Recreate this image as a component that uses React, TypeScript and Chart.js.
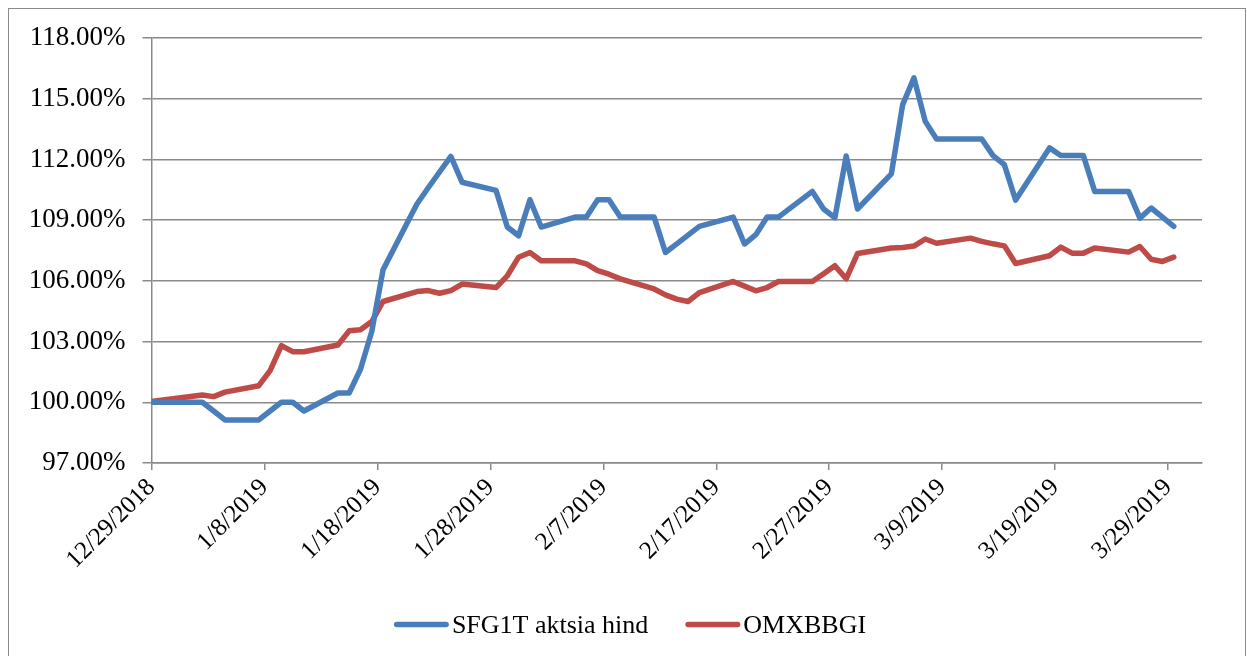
import { useEffect, useRef } from "react";
import { Chart, registerables } from "chart.js";

Chart.register(...registerables);

// ---- data ----
const axisStartDate = "12/29/2018";
const axisDays = 93; // axis runs 12/29/2018 .. 4/1/2019
const tickLabels = [
  "12/29/2018", "1/8/2019", "1/18/2019", "1/28/2019", "2/7/2019",
  "2/17/2019", "2/27/2019", "3/9/2019", "3/19/2019", "3/29/2019",
];
const seriesNames = ["SFG1T aktsia hind", "OMXBBGI"];
const seriesColors = ["#4A7EBB", "#BE4B48"];

const dates = [
  "12/28/2018", "1/2/2019", "1/3/2019", "1/4/2019", "1/7/2019", "1/8/2019", "1/9/2019", "1/10/2019", "1/11/2019",
  "1/14/2019", "1/15/2019", "1/16/2019", "1/17/2019", "1/18/2019", "1/21/2019", "1/22/2019", "1/23/2019", "1/24/2019",
  "1/25/2019", "1/28/2019", "1/29/2019", "1/30/2019", "1/31/2019", "2/1/2019", "2/4/2019", "2/5/2019", "2/6/2019",
  "2/7/2019", "2/8/2019", "2/11/2019", "2/12/2019", "2/13/2019", "2/14/2019", "2/15/2019", "2/18/2019", "2/19/2019",
  "2/20/2019", "2/21/2019", "2/22/2019", "2/25/2019", "2/26/2019", "2/27/2019", "2/28/2019", "3/1/2019", "3/4/2019",
  "3/5/2019", "3/6/2019", "3/7/2019", "3/8/2019", "3/11/2019", "3/12/2019", "3/13/2019", "3/14/2019", "3/15/2019",
  "3/18/2019", "3/19/2019", "3/20/2019", "3/21/2019", "3/22/2019", "3/25/2019", "3/26/2019", "3/27/2019", "3/28/2019",
  "3/29/2019",
];

const sfg1t = [
  100.0, 100.0, 99.57, 99.13, 99.13, 99.57, 100.0, 100.0, 99.57,
  100.46, 100.46, 101.63, 103.5, 106.55, 109.8, 110.6, 111.38, 112.15,
  110.87, 110.47, 108.66, 108.23, 110.01, 108.66, 109.15, 109.15, 110.01,
  110.01, 109.15, 109.15, 107.4, 107.83, 108.26, 108.69, 109.15, 107.82,
  108.28, 109.15, 109.15, 110.42, 109.55, 109.12, 112.17, 109.55, 111.29,
  114.71, 116.03, 113.88, 113.01, 113.01, 113.01, 112.19, 111.74, 109.99,
  112.57, 112.19, 112.19, 112.19, 110.42, 110.42, 109.1, 109.6, 109.15,
  108.69,
];

const omxbbgi = [
  100.0, 100.36, 100.28, 100.5, 100.82, 101.56, 102.8, 102.5, 102.5,
  102.83, 103.53, 103.58, 103.99, 104.98, 105.47, 105.52, 105.39, 105.52,
  105.84, 105.67, 106.25, 107.17, 107.4, 106.99, 106.99, 106.84, 106.51,
  106.33, 106.1, 105.6, 105.31, 105.1, 104.98, 105.42, 105.97, 105.74,
  105.51, 105.67, 105.97, 105.97, 106.35, 106.75, 106.1, 107.35, 107.62,
  107.65, 107.72, 108.07, 107.86, 108.11, 107.95, 107.83, 107.73, 106.86,
  107.24, 107.67, 107.37, 107.37, 107.62, 107.42, 107.7, 107.07, 106.96,
  107.17,
];

// ---- helpers ----
function toUTC(s: string): number {
  const [m, d, y] = s.split("/").map(Number);
  return Date.UTC(y, m - 1, d);
}
const startUTC = toUTC(axisStartDate);
// date axis with points placed between tick marks (middle of each day)
function dayPos(s: string): number {
  return (toUTC(s) - startUTC) / 86400000 + 0.5;
}

const FONT = '"Liberation Serif", "Times New Roman", serif';
const GRID = "#8a8a8a";

const legendPlugin = {
  id: "bottomLegend",
  afterDraw(chart: any) {
    const ctx = chart.ctx as CanvasRenderingContext2D;
    ctx.save();
    ctx.font = `26px ${FONT}`;
    const items = chart.data.datasets.map((ds: any) => ({
      label: ds.label as string,
      color: ds.borderColor as string,
      lw: ds.borderWidth as number,
      w: ctx.measureText(ds.label).width,
    }));
    const lineLen = 55, gap = 3, spacing = 37;
    const total =
      items.reduce((s: number, it: any) => s + lineLen + gap + it.w, 0) +
      spacing * (items.length - 1);
    let x = 630 - total / 2;
    const yLine = 624.5, yText = 633;
    for (const it of items) {
      ctx.strokeStyle = it.color;
      ctx.lineWidth = it.lw;
      ctx.lineCap = "round";
      ctx.beginPath();
      ctx.moveTo(x + it.lw / 2, yLine);
      ctx.lineTo(x + lineLen - it.lw / 2, yLine);
      ctx.stroke();
      x += lineLen + gap;
      ctx.fillStyle = "#000";
      ctx.textBaseline = "alphabetic";
      ctx.textAlign = "left";
      ctx.fillText(it.label, x, yText);
      x += it.w + spacing;
    }
    ctx.restore();
  },
};

export default function App() {
  const ref = useRef<HTMLCanvasElement | null>(null);

  useEffect(() => {
    if (!ref.current) return;
    const xs = dates.map(dayPos);
    const series = [sfg1t, omxbbgi];
    const chart = new Chart(ref.current, {
      type: "line",
      data: {
        datasets: series.map((vals, i) => ({
          label: seriesNames[i],
          data: vals.map((v, j) => ({ x: xs[j], y: v })),
          borderColor: seriesColors[i],
          backgroundColor: seriesColors[i],
          borderWidth: 5.5,
          borderJoinStyle: "round",
          borderCapStyle: "round",
          pointRadius: 0,
          pointHoverRadius: 0,
          tension: 0,
          fill: false,
        })),
      },
      options: {
        animation: false,
        responsive: false,
        maintainAspectRatio: false,
        events: [],
        layout: { padding: { left: 0, right: 45, top: 38, bottom: 0 } },
        plugins: {
          legend: { display: false },
          tooltip: { enabled: false },
        },
        scales: {
          x: {
            type: "linear",
            min: 0,
            max: axisDays,
            afterFit: (scale: any) => {
              scale.height = 193;
            },
            grid: {
              drawOnChartArea: false,
              drawTicks: true,
              tickLength: 7,
              color: GRID,
              lineWidth: 1.5,
            },
            border: { display: true, color: GRID, width: 1.5 },
            ticks: {
              stepSize: 10,
              includeBounds: false,
              autoSkip: false,
              minRotation: 45,
              maxRotation: 45,
              padding: 3,
              color: "#000",
              font: { family: FONT, size: 25 },
              callback: (v: any) => tickLabels[Math.round(Number(v) / 10)] ?? "",
            },
          },
          y: {
            type: "linear",
            min: 97,
            max: 118,
            afterFit: (scale: any) => {
              scale.width = 151.5;
            },
            grid: {
              color: GRID,
              lineWidth: 1.5,
              tickLength: 9,
            },
            border: { display: true, color: GRID, width: 1.5 },
            ticks: {
              stepSize: 3,
              padding: 17,
              color: "#000",
              font: { family: FONT, size: 27 },
              callback: (v: any) => Number(v).toFixed(2) + "%",
            },
          },
        },
      },
      plugins: [legendPlugin],
    });
    return () => chart.destroy();
  }, []);

  return (
    <div
      style={{
        position: "fixed",
        left: 0,
        top: 0,
        width: 1247,
        height: 656,
        overflow: "hidden",
        background: "#fff",
      }}
    >
      <div
        style={{
          position: "absolute",
          left: 8,
          top: 8,
          width: 1236,
          height: 700,
          border: "1px solid #8a8a8a",
        }}
      />
      <canvas
        ref={ref}
        width={1247}
        height={656}
        style={{ position: "absolute", left: 0, top: 0, width: 1247, height: 656 }}
      />
    </div>
  );
}
